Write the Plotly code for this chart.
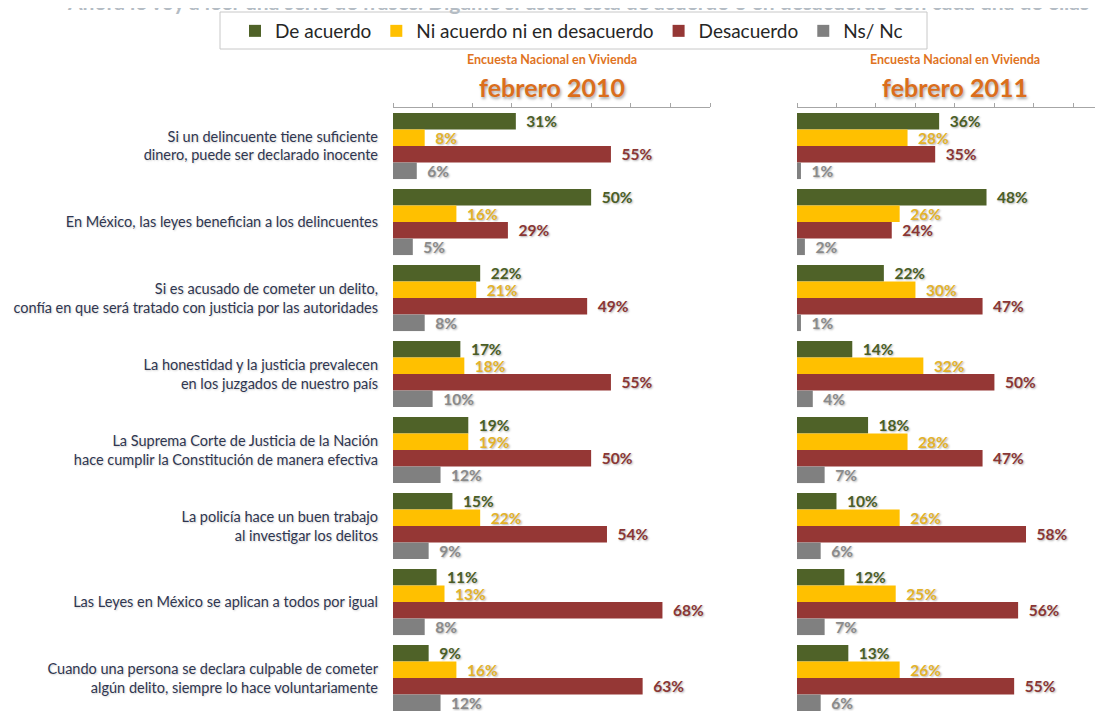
import plotly.graph_objects as go

categories = [
    "Si un delincuente tiene suficiente<br>dinero, puede ser declarado inocente",
    "En México, las leyes benefician a los delincuentes",
    "Si es acusado de cometer un delito,<br>confía en que será tratado con justicia por las autoridades",
    "La honestidad y la justicia prevalecen<br>en los juzgados de nuestro país",
    "La Suprema Corte de Justicia de la Nación<br>hace cumplir la Constitución de manera efectiva",
    "La policía hace un buen trabajo<br>al investigar los delitos",
    "Las Leyes en México se aplican a todos por igual",
    "Cuando una persona se declara culpable de cometer<br>algún delito, siempre lo hace voluntariamente",
]
series_names = ["De acuerdo", "Ni acuerdo ni en desacuerdo", "Desacuerdo", "Ns/ Nc"]

acuerdo_2010 = [31, 50, 22, 17, 19, 15, 11, 9]
ni_2010 = [8, 16, 21, 18, 19, 22, 13, 16]
desacuerdo_2010 = [55, 29, 49, 55, 50, 54, 68, 63]
nsnc_2010 = [6, 5, 8, 10, 12, 9, 8, 12]

acuerdo_2011 = [36, 48, 22, 14, 18, 10, 12, 13]
ni_2011 = [28, 26, 30, 32, 28, 26, 25, 26]
desacuerdo_2011 = [35, 24, 47, 50, 47, 58, 56, 55]
nsnc_2011 = [1, 2, 1, 4, 7, 6, 7, 6]

panel_titles = ["febrero 2010", "febrero 2011"]
survey_label = "Encuesta Nacional en Vivienda"
top_question = ("Ahora le voy a leer una serie de frases. Dígame si usted está de acuerdo "
                "o en desacuerdo con cada una de ellas")

bar_colors = ["#4F6228", "#FFC000", "#953735", "#808080"]
label_colors = ["#4A5E26", "#E3B22A", "#8A3634", "#8A8A8A"]

FONT = "Lato"
ypos = list(range(len(categories)))

fig = go.Figure()
data_2010 = [acuerdo_2010, ni_2010, desacuerdo_2010, nsnc_2010]
data_2011 = [acuerdo_2011, ni_2011, desacuerdo_2011, nsnc_2011]

for panel, (dataset, xa, ya) in enumerate([(data_2010, "x", "y"), (data_2011, "x2", "y2")]):
    for i, vals in enumerate(dataset):
        fig.add_trace(go.Bar(
            y=ypos, x=vals, orientation="h",
            name=series_names[i],
            legendgroup=series_names[i],
            showlegend=(panel == 0),
            marker=dict(color=bar_colors[i], line=dict(width=0)),
            text=["\u00a0\u00a0" + f"{v}%" for v in vals],
            textposition="outside",
            constraintext="none",
            cliponaxis=False,
            textfont=dict(family=FONT, size=15.5, color=label_colors[i], weight="bold",
                          shadow="1px 1px 2px rgba(0,0,0,0.30)"),
            hoverinfo="skip",
            xaxis=xa, yaxis=ya,
        ))

# The page body has an 8px margin; work in page pixel coordinates.
OFF = 8
FW, FH = 1103 - OFF, 711 - OFF
TOP_PAGE = 108
TOP = TOP_PAGE - OFF
plot_h = FH - TOP

def px(p):
    return (p - OFF) / FW

def py(p):
    return 1 - (p - TOP_PAGE) / plot_h

axis_common = dict(
    showgrid=False, zeroline=False, showline=True, linecolor="#A6A6A6", linewidth=1,
    ticks="outside", ticklen=4, tickcolor="#A6A6A6", showticklabels=False,
    side="top", dtick=10, tick0=0, automargin=False,
)
fig.update_layout(
    width=FW, height=FH,
    margin=dict(l=0, r=0, t=TOP, b=0, autoexpand=False),
    paper_bgcolor="white", plot_bgcolor="white",
    barmode="group", bargap=0.13, bargroupgap=0,
    xaxis=dict(domain=[px(393), px(710)], range=[0, 80], anchor="y", **axis_common),
    xaxis2=dict(domain=[px(797), 1.0], range=[0, 77.5], anchor="y2", **axis_common),
    yaxis=dict(range=[7.434, -0.5], tickmode="array", tickvals=ypos, ticktext=categories,
               showgrid=False, zeroline=False, showline=False, ticks="",
               ticklabelstandoff=14, anchor="x", automargin=False,
               tickfont=dict(family=FONT, size=14.5, color="#2F3650",
                             shadow="1px 1px 2px rgba(0,0,0,0.18)")),
    yaxis2=dict(range=[7.434, -0.5], showticklabels=False, showgrid=False, zeroline=False,
                showline=False, ticks="", anchor="x2", automargin=False),
    showlegend=True,
    legend=dict(orientation="h", x=px(235), xanchor="left", y=py(31), yanchor="middle",
                bgcolor="rgba(0,0,0,0)", borderwidth=0,
                font=dict(family=FONT, size=19, color="#262626"), traceorder="normal"),
    font=dict(family=FONT),
)

fig.add_shape(type="rect", xref="paper", yref="paper",
              x0=px(220), x1=px(927), y0=py(49), y1=py(12),
              line=dict(color="#C8C8C8", width=1), fillcolor="white", layer="below")

for xa, title in [("x", panel_titles[0]), ("x2", panel_titles[1])]:
    fig.add_annotation(xref=xa, yref="paper", x=40, y=py(60), text=f"<b>{survey_label}</b>",
                       showarrow=False, xanchor="center", yanchor="middle",
                       font=dict(family=FONT, size=12.5, color="#E0731E"))
    fig.add_annotation(xref=xa, yref="paper", x=40, y=py(87), text=f"<b>{title}</b>",
                       showarrow=False, xanchor="center", yanchor="middle",
                       font=dict(family=FONT, size=25, color="#DB6E1C",
                                 shadow="1px 2px 3px rgba(0,0,0,0.35)"))

fig.add_annotation(xref="paper", yref="paper", x=px(578), y=py(1), text=f"<b>{top_question}</b>",
                   showarrow=False, xanchor="center", yanchor="middle",
                   font=dict(family=FONT, size=21, color="#B4BCC4"))

fig.write_html("out.html")
